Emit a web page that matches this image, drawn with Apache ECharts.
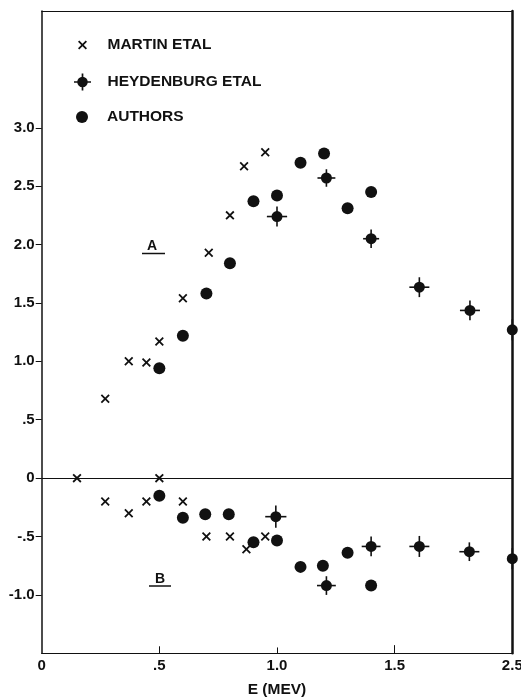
<!DOCTYPE html>
<html>
<head>
<meta charset="utf-8">
<script src="https://cdn.jsdelivr.net/npm/echarts@6/dist/echarts.min.js"></script>
<style>
  html, body { margin: 0; padding: 0; background: #fff; }
  #chart { width: 521px; height: 698px; }
</style>
</head>
<body>
<div id="chart"></div>
<script>
  // 横轴在 1.5 之后压缩：1.5 ~ 2.5 只占半格
  const axisBreak = 1.5
  function toAxis(e) {
    return e <= axisBreak ? e : axisBreak + (e - axisBreak) / 2
  }

  /** 刻度标签 */
  const xTickValues = [0, 0.5, 1, 1.5, 2]
  const xTickLabels = ['0', '.5', '1.0', '1.5', '2.5']
  const yTickValues = [-1, -0.5, 0, 0.5, 1, 1.5, 2, 2.5, 3]
  const yTickLabels = ['-1.0', '-.5', '0', '.5', '1.0', '1.5', '2.0', '2.5', '3.0']

  /** MARTIN ETAL (A 与 B) */
  const martinE = [0.27, 0.37, 0.445, 0.50, 0.60, 0.71, 0.80, 0.86, 0.95,
    0.15, 0.27, 0.37, 0.445, 0.50, 0.60, 0.70, 0.80, 0.87, 0.95]
  const martinY = [0.68, 1.00, 0.99, 1.17, 1.54, 1.93, 2.25, 2.67, 2.79,
    0, -0.20, -0.30, -0.20, 0, -0.20, -0.50, -0.50, -0.61, -0.50]

  /** AUTHORS */
  const authorsE = [0.50, 0.60, 0.70, 0.80, 0.90, 1.00, 1.10, 1.20, 1.30, 1.40,
    0.50, 0.60, 0.695, 0.795, 0.90, 1.00, 1.10, 1.195, 1.30, 1.40]
  const authorsY = [0.94, 1.22, 1.58, 1.84, 2.37, 2.42, 2.70, 2.78, 2.31, 2.45,
    -0.15, -0.34, -0.31, -0.31, -0.55, -0.535, -0.76, -0.75, -0.64, -0.92]

  /** HEYDENBURG ETAL 及误差 */
  const heyE = [1.00, 1.21, 1.40, 1.71, 2.14, 2.50,
    0.995, 1.21, 1.40, 1.71, 2.135, 2.50]
  const heyY = [2.24, 2.57, 2.05, 1.635, 1.436, 1.27,
    -0.33, -0.92, -0.585, -0.585, -0.63, -0.69]
  const heyXErr = [0.043, 0.038, 0.034, 0.085, 0.085, 0.04,
    0.045, 0.040, 0.040, 0.085, 0.085, 0.04]
  const heyYErr = [0.085, 0.075, 0.080, 0.085, 0.085, 0.09,
    0.095, 0.080, 0.085, 0.090, 0.080, 0.09]

  const ink = '#111'
  const font = 'Liberation Sans'
  const crossPath = 'path://M0,1.4L1.4,0L5,3.6L8.6,0L10,1.4L6.4,5L10,8.6L8.6,10L5,6.4L1.4,10L0,8.6L3.6,5Z'
  const heyIcon = 'path://M0,9h20v2H0z M9,0h2v20H9z M10,3.8a6.2,6.2 0 1 1 0,12.4a6.2,6.2 0 1 1 0,-12.4z'

  const martinData = martinE.map((e, i) => [toAxis(e), martinY[i]])
  const authorsData = authorsE.map((e, i) => [toAxis(e), authorsY[i]])
  const heyData = heyE.map((e, i) => [toAxis(e), heyY[i]])
  const heyErrData = heyE.map((e, i) => [
    toAxis(e), heyY[i], toAxis(e - heyXErr[i]), toAxis(e + heyXErr[i]), heyYErr[i]
  ])

  function legendItem(name, icon, h, left, top) {
    return {
      data: [{ name: name, icon: icon }],
      orient: 'vertical',
      left: left,
      top: top,
      padding: 0,
      itemWidth: 40,
      itemHeight: h,
      selectedMode: false,
      textStyle: { color: ink, fontFamily: font, fontWeight: 'bold', fontSize: 15.5 }
    }
  }

  const labelStyle = { color: ink, fontFamily: font, fontWeight: 'bold', fontSize: 15 }

  const chart = echarts.init(document.getElementById('chart'))
  chart.setOption({
    backgroundColor: '#fff',
    animation: false,
    grid: { left: 41.7, right: 8.7, top: 11, bottom: 44.7, outerBoundsMode: 'none' },
    legend: [
      legendItem('MARTIN ETAL', crossPath, 9, 78, 37),
      legendItem('HEYDENBURG ETAL', heyIcon, 17, 74, 73.5),
      legendItem('AUTHORS', 'circle', 12, 76, 109)
    ],
    xAxis: [
      {
        type: 'value',
        position: 'bottom',
        min: 0,
        max: 2,
        interval: 0.5,
        splitLine: { show: false },
        axisLine: { onZero: false, lineStyle: { color: ink, width: 1.2 } },
        axisTick: { show: false },
        axisLabel: {
          ...labelStyle,
          margin: 5,
          showMinLabel: true,
          showMaxLabel: true,
          formatter: (v) => xTickLabels[xTickValues.indexOf(v)]
        },
        name: 'E (MEV)',
        nameLocation: 'middle',
        nameGap: 28,
        nameTextStyle: { color: ink, fontFamily: font, fontWeight: 'bold', fontSize: 15.5 }
      },
      {
        // 顶边，兼作底轴向内的短刻度（与底轴同一位置）
        type: 'value',
        position: 'top',
        min: 0,
        max: 2,
        splitLine: { show: false },
        axisLine: { onZero: false, lineStyle: { color: ink, width: 1 } },
        axisTick: { show: false },
        axisLabel: { show: false }
      }
    ],
    yAxis: [
      {
        type: 'value',
        position: 'left',
        min: -1.5,
        max: 4,
        interval: 0.5,
        splitLine: { show: false },
        axisLine: { onZero: false, lineStyle: { color: ink, width: 1.5 } },
        axisTick: { length: 6, customValues: yTickValues, lineStyle: { color: ink, width: 1 } },
        axisLabel: {
          ...labelStyle,
          margin: 7,
          customValues: yTickValues,
          formatter: (v) => yTickLabels[yTickValues.indexOf(v)]
        }
      },
      {
        type: 'value',
        position: 'right',
        min: -1.5,
        max: 4,
        splitLine: { show: false },
        axisLine: { onZero: false, lineStyle: { color: ink, width: 2.5 } },
        axisTick: { show: false },
        axisLabel: { show: false }
      }
    ],
    series: [
      {
        name: 'MARTIN ETAL',
        type: 'scatter',
        data: martinData,
        symbol: crossPath,
        symbolSize: 9,
        itemStyle: { color: ink, opacity: 1 }
      },
      {
        name: 'hey-err',
        type: 'custom',
        data: heyErrData,
        renderItem: (params, api) => {
          const c = api.coord([api.value(0), api.value(1)])
          const l = api.coord([api.value(2), api.value(1)])
          const r = api.coord([api.value(3), api.value(1)])
          const t = api.coord([api.value(0), api.value(1) + api.value(4)])
          const b = api.coord([api.value(0), api.value(1) - api.value(4)])
          const style = { stroke: ink, lineWidth: 1.6 }
          return {
            type: 'group',
            children: [
              { type: 'line', shape: { x1: l[0], y1: c[1], x2: r[0], y2: c[1] }, style: style },
              { type: 'line', shape: { x1: c[0], y1: t[1], x2: c[0], y2: b[1] }, style: style }
            ]
          }
        },
        z: 2
      },
      {
        name: 'HEYDENBURG ETAL',
        type: 'scatter',
        data: heyData,
        symbol: 'circle',
        symbolSize: 11,
        itemStyle: { color: ink, opacity: 1 },
        z: 3
      },
      {
        name: 'AUTHORS',
        type: 'scatter',
        data: authorsData,
        symbol: 'circle',
        symbolSize: 12,
        itemStyle: { color: ink, opacity: 1 },
        markLine: {
          silent: true,
          symbol: 'none',
          label: { show: false },
          lineStyle: { color: ink, type: 'solid', width: 1 },
          data: [
            { yAxis: 0 },
            // 底轴向内的短刻度
            [{ coord: [0.5, -1.5] }, { coord: [0.5, -1.44] }],
            [{ coord: [1, -1.5] }, { coord: [1, -1.45] }],
            [{ coord: [1.5, -1.5] }, { coord: [1.5, -1.43] }]
          ]
        }
      }
    ],
    graphic: [
      { type: 'text', left: 147, top: 239, style: { text: 'A', fill: ink, font: 'bold 14px "Liberation Sans"' } },
      { type: 'line', shape: { x1: 142, y1: 253.5, x2: 165, y2: 253.5 }, style: { stroke: ink, lineWidth: 1.5 } },
      { type: 'text', left: 155, top: 572, style: { text: 'B', fill: ink, font: 'bold 14px "Liberation Sans"' } },
      { type: 'line', shape: { x1: 149, y1: 586, x2: 171, y2: 586 }, style: { stroke: ink, lineWidth: 1.5 } }
    ]
  })
</script>
</body>
</html>
